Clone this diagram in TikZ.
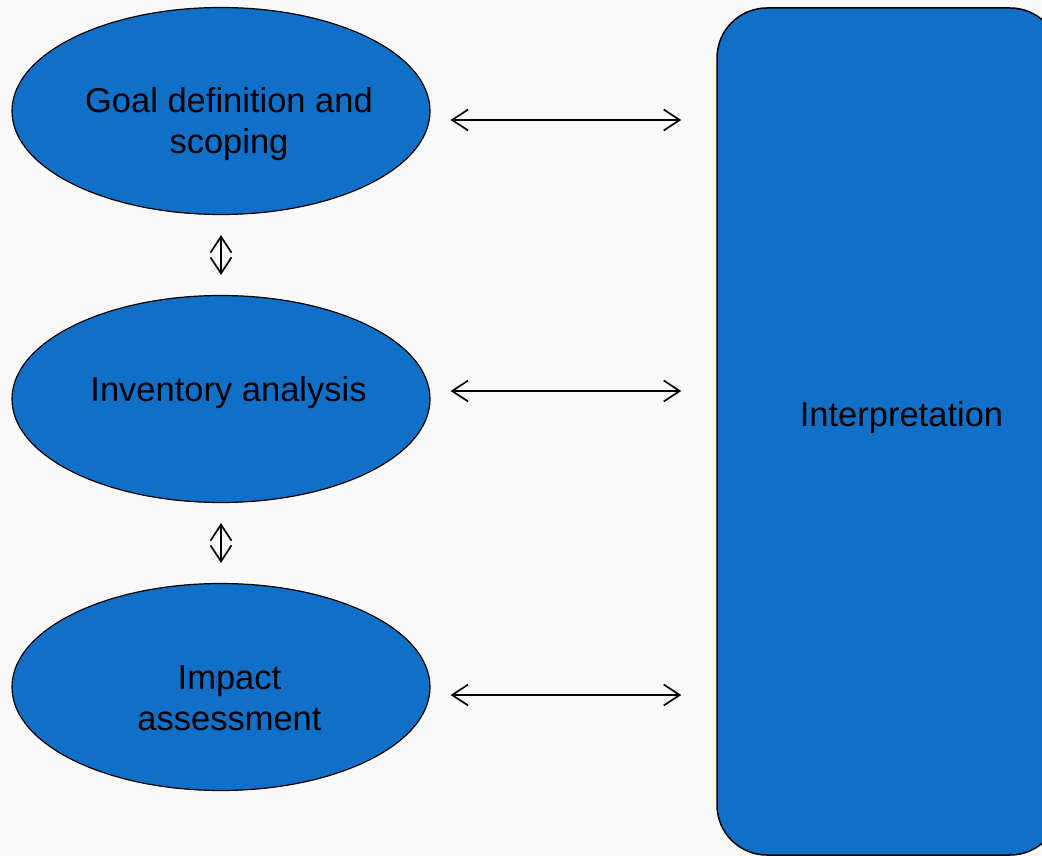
\documentclass[tikz,border=0pt]{standalone}
\usepackage{fontspec}
\setmainfont{Liberation Sans}
\usetikzlibrary{arrows.meta,shapes.geometric}
\definecolor{pBlue}{RGB}{16,111,198}
\definecolor{pBack}{gray}{0.975}
\tikzset{
    stage/.style={ellipse, draw, line width=1.2pt, fill=pBlue, minimum width=418pt, minimum height=207pt, inner sep=0pt},
    panel/.style={rectangle, rounded corners=50pt, draw, line width=1.5pt, fill=pBlue, minimum width=343pt, minimum height=847pt},
    txt/.style={font=\fontsize{34.5}{41}\selectfont, align=center, inner sep=0pt},
    link/.style={{Straight Barb[length=16pt,width=21pt]}-{Straight Barb[length=16pt,width=21pt]}, line width=1.7pt}
}

\begin{document}
\begin{tikzpicture}[x=1pt,y=-1pt]
\useasboundingbox (0,0) rectangle (1042,856);
\fill[pBack] (0,0) rectangle (1042,856);
\clip (0,0) rectangle (1042,856);
\node[stage, label={[txt, xshift=8pt, yshift=-13.5pt]center:{Goal definition and\\scoping}}] (goal) at (221,111) {};
\node[stage, label={[txt, xshift=7.5pt, yshift=6.5pt]center:{Inventory analysis}}] (inv) at (221,399) {};
\node[stage, label={[txt, xshift=8.5pt, yshift=-11.5pt]center:{Impact\\assessment}}] (impact) at (221,687) {};
\node[panel, label={[txt, xshift=13pt, yshift=14pt]center:{Interpretation}}] (interp) at (888.5,431.5) {};
% links between the stages
\draw[link, shorten <=20pt, shorten >=20pt] (goal.south) -- (inv.north);
\draw[link, shorten <=20pt, shorten >=20pt] (inv.south) -- (impact.north);
% links to the interpretation
\draw[link, shorten <=20pt, shorten >=35pt] ([yshift=-9pt]goal.east) -- ([yshift=-9pt]goal.east -| interp.west);
\draw[link, shorten <=20pt, shorten >=35pt] ([yshift=8pt]inv.east) -- ([yshift=8pt]inv.east -| interp.west);
\draw[link, shorten <=20pt, shorten >=35pt] ([yshift=-8pt]impact.east) -- ([yshift=-8pt]impact.east -| interp.west);
\end{tikzpicture}
\end{document}
